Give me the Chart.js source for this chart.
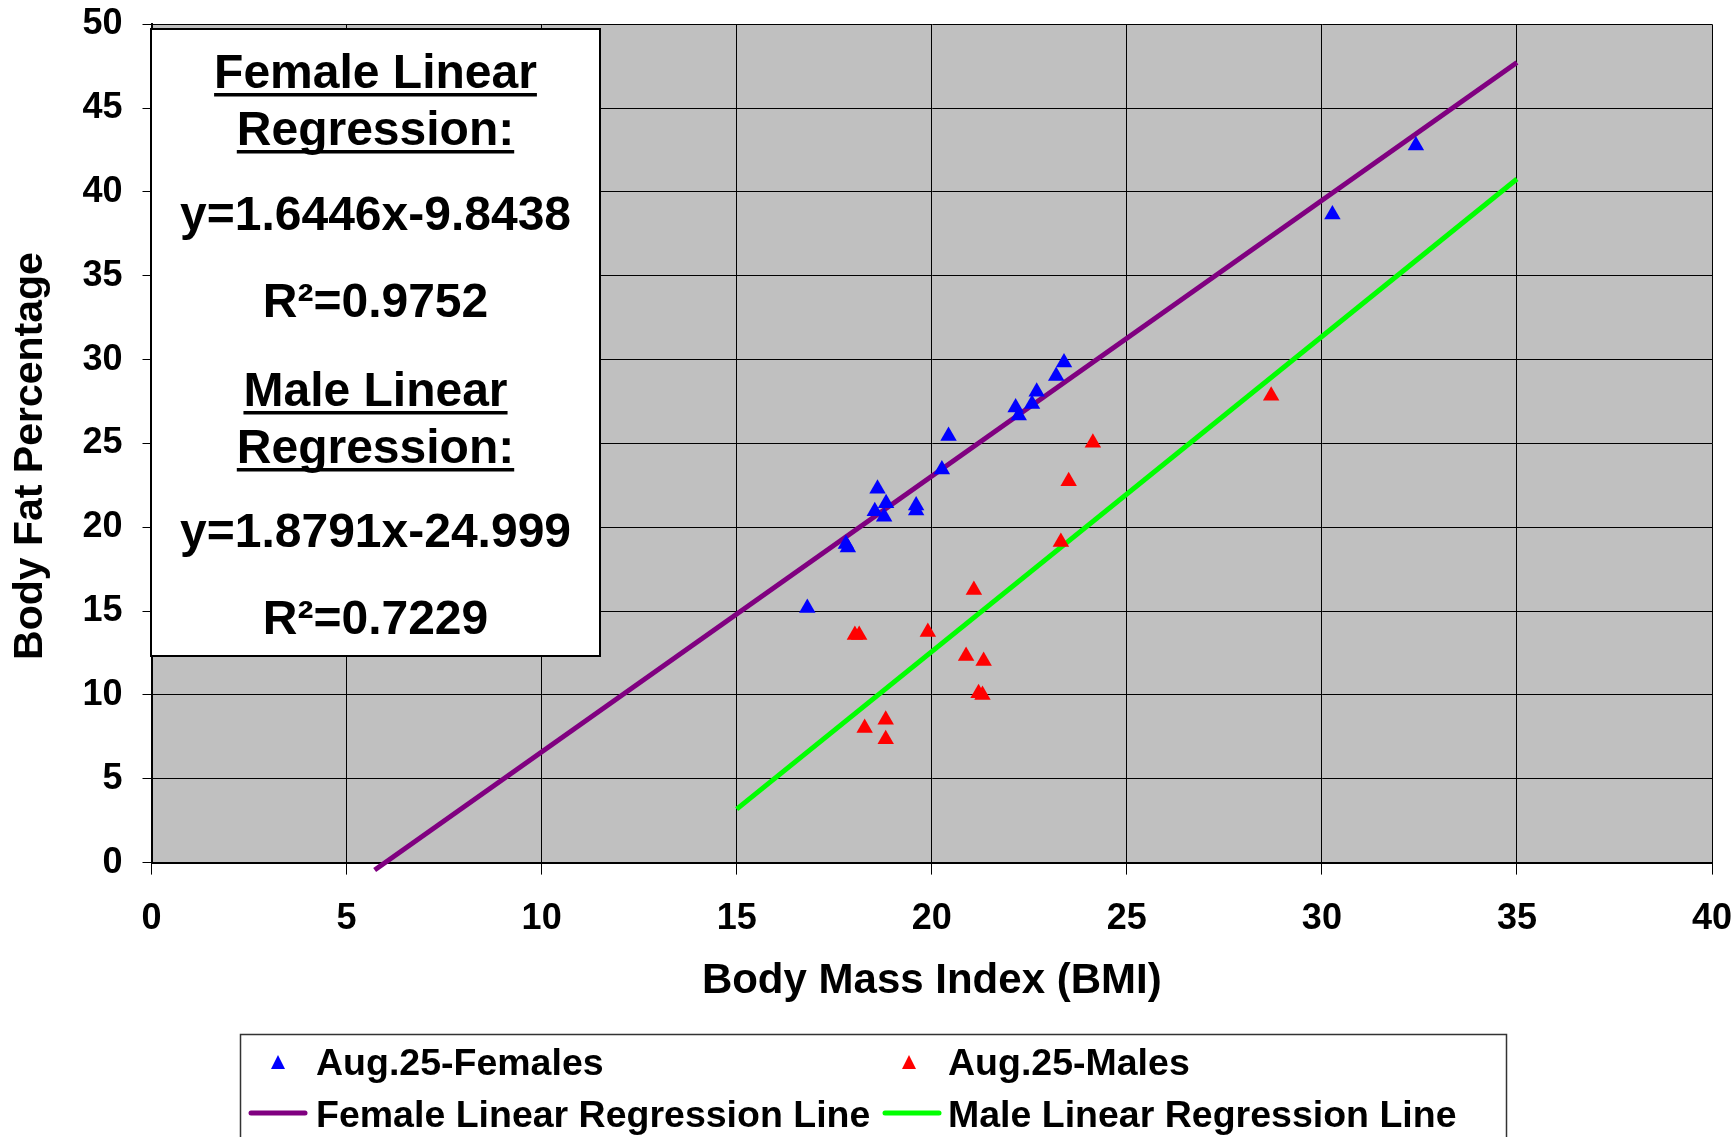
<!DOCTYPE html>
<html>
<head>
<meta charset="utf-8">
<script src="https://cdn.jsdelivr.net/npm/chart.js@4/dist/chart.umd.min.js"></script>
<style>
  html, body { margin: 0; padding: 0; background: #ffffff; }
  #wrap { width: 1734px; height: 1137px; position: relative; }
</style>
</head>
<body>
<div id="wrap"><canvas id="c" width="1734" height="1137"></canvas></div>
<script>
// ---- data ----
const femaleBMI = [23.39, 23.19, 22.69, 22.57, 22.15, 22.23, 20.43, 20.26, 18.61, 18.83, 19.60, 19.60, 18.54, 18.78, 17.80, 17.85, 16.81, 32.41, 30.27];
const femaleFat = [29.83, 29.03, 28.08, 27.35, 27.15, 26.67, 25.44, 23.45, 22.30, 21.44, 21.30, 21.00, 20.95, 20.63, 19.00, 18.80, 15.18, 42.77, 38.66];
const maleBMI = [24.13, 23.51, 23.31, 21.08, 18.03, 18.14, 19.90, 20.88, 21.33, 21.20, 21.30, 18.28, 18.82, 18.82, 28.70];
const maleFat = [25.04, 22.75, 19.12, 16.26, 13.57, 13.57, 13.75, 12.32, 12.02, 10.10, 10.00, 8.03, 8.52, 7.35, 27.84];
const femaleLineX = [5.72, 35];
const femaleLineY = [-0.44, 47.72];
const maleLineX = [15, 35];
const maleLineY = [3.19, 40.77];
const seriesNames = ['Aug.25-Females', 'Aug.25-Males', 'Female Linear Regression Line', 'Male Linear Regression Line'];
const xTicks = [0, 5, 10, 15, 20, 25, 30, 35, 40];
const yTicks = [0, 5, 10, 15, 20, 25, 30, 35, 40, 45, 50];
const boxLines = [
  { text: 'Female Linear', underline: true },
  { text: 'Regression:', underline: true },
  { text: 'y=1.6446x-9.8438', underline: false },
  { text: 'R\u00B2=0.9752', underline: false },
  { text: 'Male Linear', underline: true },
  { text: 'Regression:', underline: true },
  { text: 'y=1.8791x-24.999', underline: false },
  { text: 'R\u00B2=0.7229', underline: false }
];
const xTitle = 'Body Mass Index (BMI)';
const yTitle = 'Body Fat Percentage';

const FONT = "'Liberation Sans', Arial, sans-serif";
const zip = (xs, ys) => xs.map((x, i) => ({ x: x, y: ys[i] }));

const plotBg = {
  id: 'plotBg',
  beforeDraw(chart) {
    const { ctx, chartArea: a } = chart;
    ctx.save();
    ctx.fillStyle = '#C0C0C0';
    ctx.fillRect(a.left, a.top, a.right - a.left, a.bottom - a.top);
    ctx.restore();
  }
};

const yTitlePlugin = {
  id: 'yTitlePlugin',
  afterDraw(chart) {
    const ctx = chart.ctx;
    ctx.save();
    ctx.translate(31, 456);
    ctx.rotate(-Math.PI / 2);
    ctx.font = 'bold 41px ' + FONT;
    ctx.fillStyle = '#000000';
    ctx.textAlign = 'center';
    ctx.textBaseline = 'middle';
    ctx.fillText(yTitle, 0, 0);
    ctx.restore();
  }
};

const textBox = {
  id: 'textBox',
  afterDraw(chart) {
    const ctx = chart.ctx;
    const left = 151, top = 29, right = 600, bottom = 656;
    ctx.save();
    ctx.fillStyle = '#ffffff';
    ctx.fillRect(left, top, right - left, bottom - top);
    ctx.strokeStyle = '#000000';
    ctx.lineWidth = 2;
    ctx.strokeRect(left, top, right - left, bottom - top);
    const cx = (left + right) / 2;
    const baselines = [88, 145, 230, 317, 406, 463, 547, 634];
    ctx.font = 'bold 48px ' + FONT;
    ctx.fillStyle = '#000000';
    ctx.textAlign = 'center';
    ctx.textBaseline = 'alphabetic';
    boxLines.forEach((ln, i) => {
      const y = baselines[i];
      ctx.fillText(ln.text, cx, y);
      if (ln.underline) {
        const w = ctx.measureText(ln.text).width;
        ctx.fillRect(cx - w / 2, y + 5, w, 3.5);
      }
    });
    ctx.restore();
  }
};

const customLegend = {
  id: 'customLegend',
  afterDraw(chart) {
    const ctx = chart.ctx;
    const ds = chart.data.datasets;
    ctx.save();
    ctx.strokeStyle = '#333333';
    ctx.lineWidth = 1.5;
    ctx.strokeRect(240.5, 1034.5, 1266, 130);
    ctx.font = 'bold 37.5px ' + FONT;
    ctx.fillStyle = '#000000';
    ctx.textAlign = 'left';
    ctx.textBaseline = 'alphabetic';
    const items = [
      { i: 0, sx: 278, tx: 316, cy: 1063, base: 1075 },
      { i: 1, sx: 909, tx: 948, cy: 1063, base: 1075 },
      { i: 2, sx: 278, tx: 316, cy: 1113, base: 1127 },
      { i: 3, sx: 912, tx: 948, cy: 1113, base: 1127 }
    ];
    items.forEach(it => {
      const d = ds[it.i];
      if (d.showLine) {
        ctx.strokeStyle = d.borderColor;
        ctx.lineWidth = 5;
        ctx.lineCap = 'round';
        ctx.beginPath();
        ctx.moveTo(it.sx - 27, it.cy);
        ctx.lineTo(it.sx + 27, it.cy);
        ctx.stroke();
      } else {
        ctx.fillStyle = d.backgroundColor;
        ctx.beginPath();
        ctx.moveTo(it.sx, it.cy - 8);
        ctx.lineTo(it.sx + 7, it.cy + 6);
        ctx.lineTo(it.sx - 7, it.cy + 6);
        ctx.closePath();
        ctx.fill();
      }
      ctx.fillStyle = '#000000';
      ctx.fillText(d.label, it.tx, it.base);
    });
    ctx.restore();
  }
};

new Chart(document.getElementById('c'), {
  type: 'scatter',
  data: {
    datasets: [
      {
        label: seriesNames[0],
        data: zip(femaleBMI, femaleFat),
        pointStyle: 'triangle', pointRadius: 9.5, pointHoverRadius: 9.5,
        backgroundColor: '#0000FF', borderColor: '#0000FF', borderWidth: 0
      },
      {
        label: seriesNames[1],
        data: zip(maleBMI, maleFat),
        pointStyle: 'triangle', pointRadius: 9.5, pointHoverRadius: 9.5,
        backgroundColor: '#FF0000', borderColor: '#FF0000', borderWidth: 0
      },
      {
        label: seriesNames[2],
        data: zip(femaleLineX, femaleLineY),
        showLine: true, pointRadius: 0, borderColor: '#800080', backgroundColor: '#800080',
        borderWidth: 5, clip: false
      },
      {
        label: seriesNames[3],
        data: zip(maleLineX, maleLineY),
        showLine: true, pointRadius: 0, borderColor: '#00FF00', backgroundColor: '#00FF00',
        borderWidth: 5, clip: false
      }
    ]
  },
  options: {
    responsive: false,
    animation: false,
    events: [],
    layout: { padding: { left: 0, top: 24.3, right: 22, bottom: 0 } },
    plugins: { legend: { display: false }, tooltip: { enabled: false } },
    scales: {
      x: {
        type: 'linear', min: 0, max: 40,
        afterBuildTicks: s => { s.ticks = xTicks.map(v => ({ value: v })); },
        afterFit: s => { s.height = 1137 - 862.6; s.paddingLeft = 0; s.paddingRight = 0; },
        grid: { color: '#000000', lineWidth: 1, tickLength: 12, tickColor: '#000000' },
        border: { color: '#000000', width: 2 },
        ticks: { color: '#000000', padding: 23, maxRotation: 0, font: { family: FONT, size: 36, weight: 'bold' } },
        title: { display: true, text: xTitle, color: '#000000', padding: { top: 0, bottom: 130 },
                 font: { family: FONT, size: 42, weight: 'bold' } }
      },
      y: {
        type: 'linear', min: 0, max: 50,
        afterBuildTicks: s => { s.ticks = yTicks.map(v => ({ value: v })); },
        afterFit: s => { s.width = 151.5; s.paddingTop = 0; s.paddingBottom = 0; },
        grid: { color: '#000000', lineWidth: 1, tickLength: 9, tickColor: '#000000' },
        border: { color: '#000000', width: 2 },
        ticks: { color: '#000000', padding: 20, font: { family: FONT, size: 36, weight: 'bold' } },
        title: { display: false }
      }
    }
  },
  plugins: [plotBg, textBox, customLegend, yTitlePlugin]
});
</script>
</body>
</html>
